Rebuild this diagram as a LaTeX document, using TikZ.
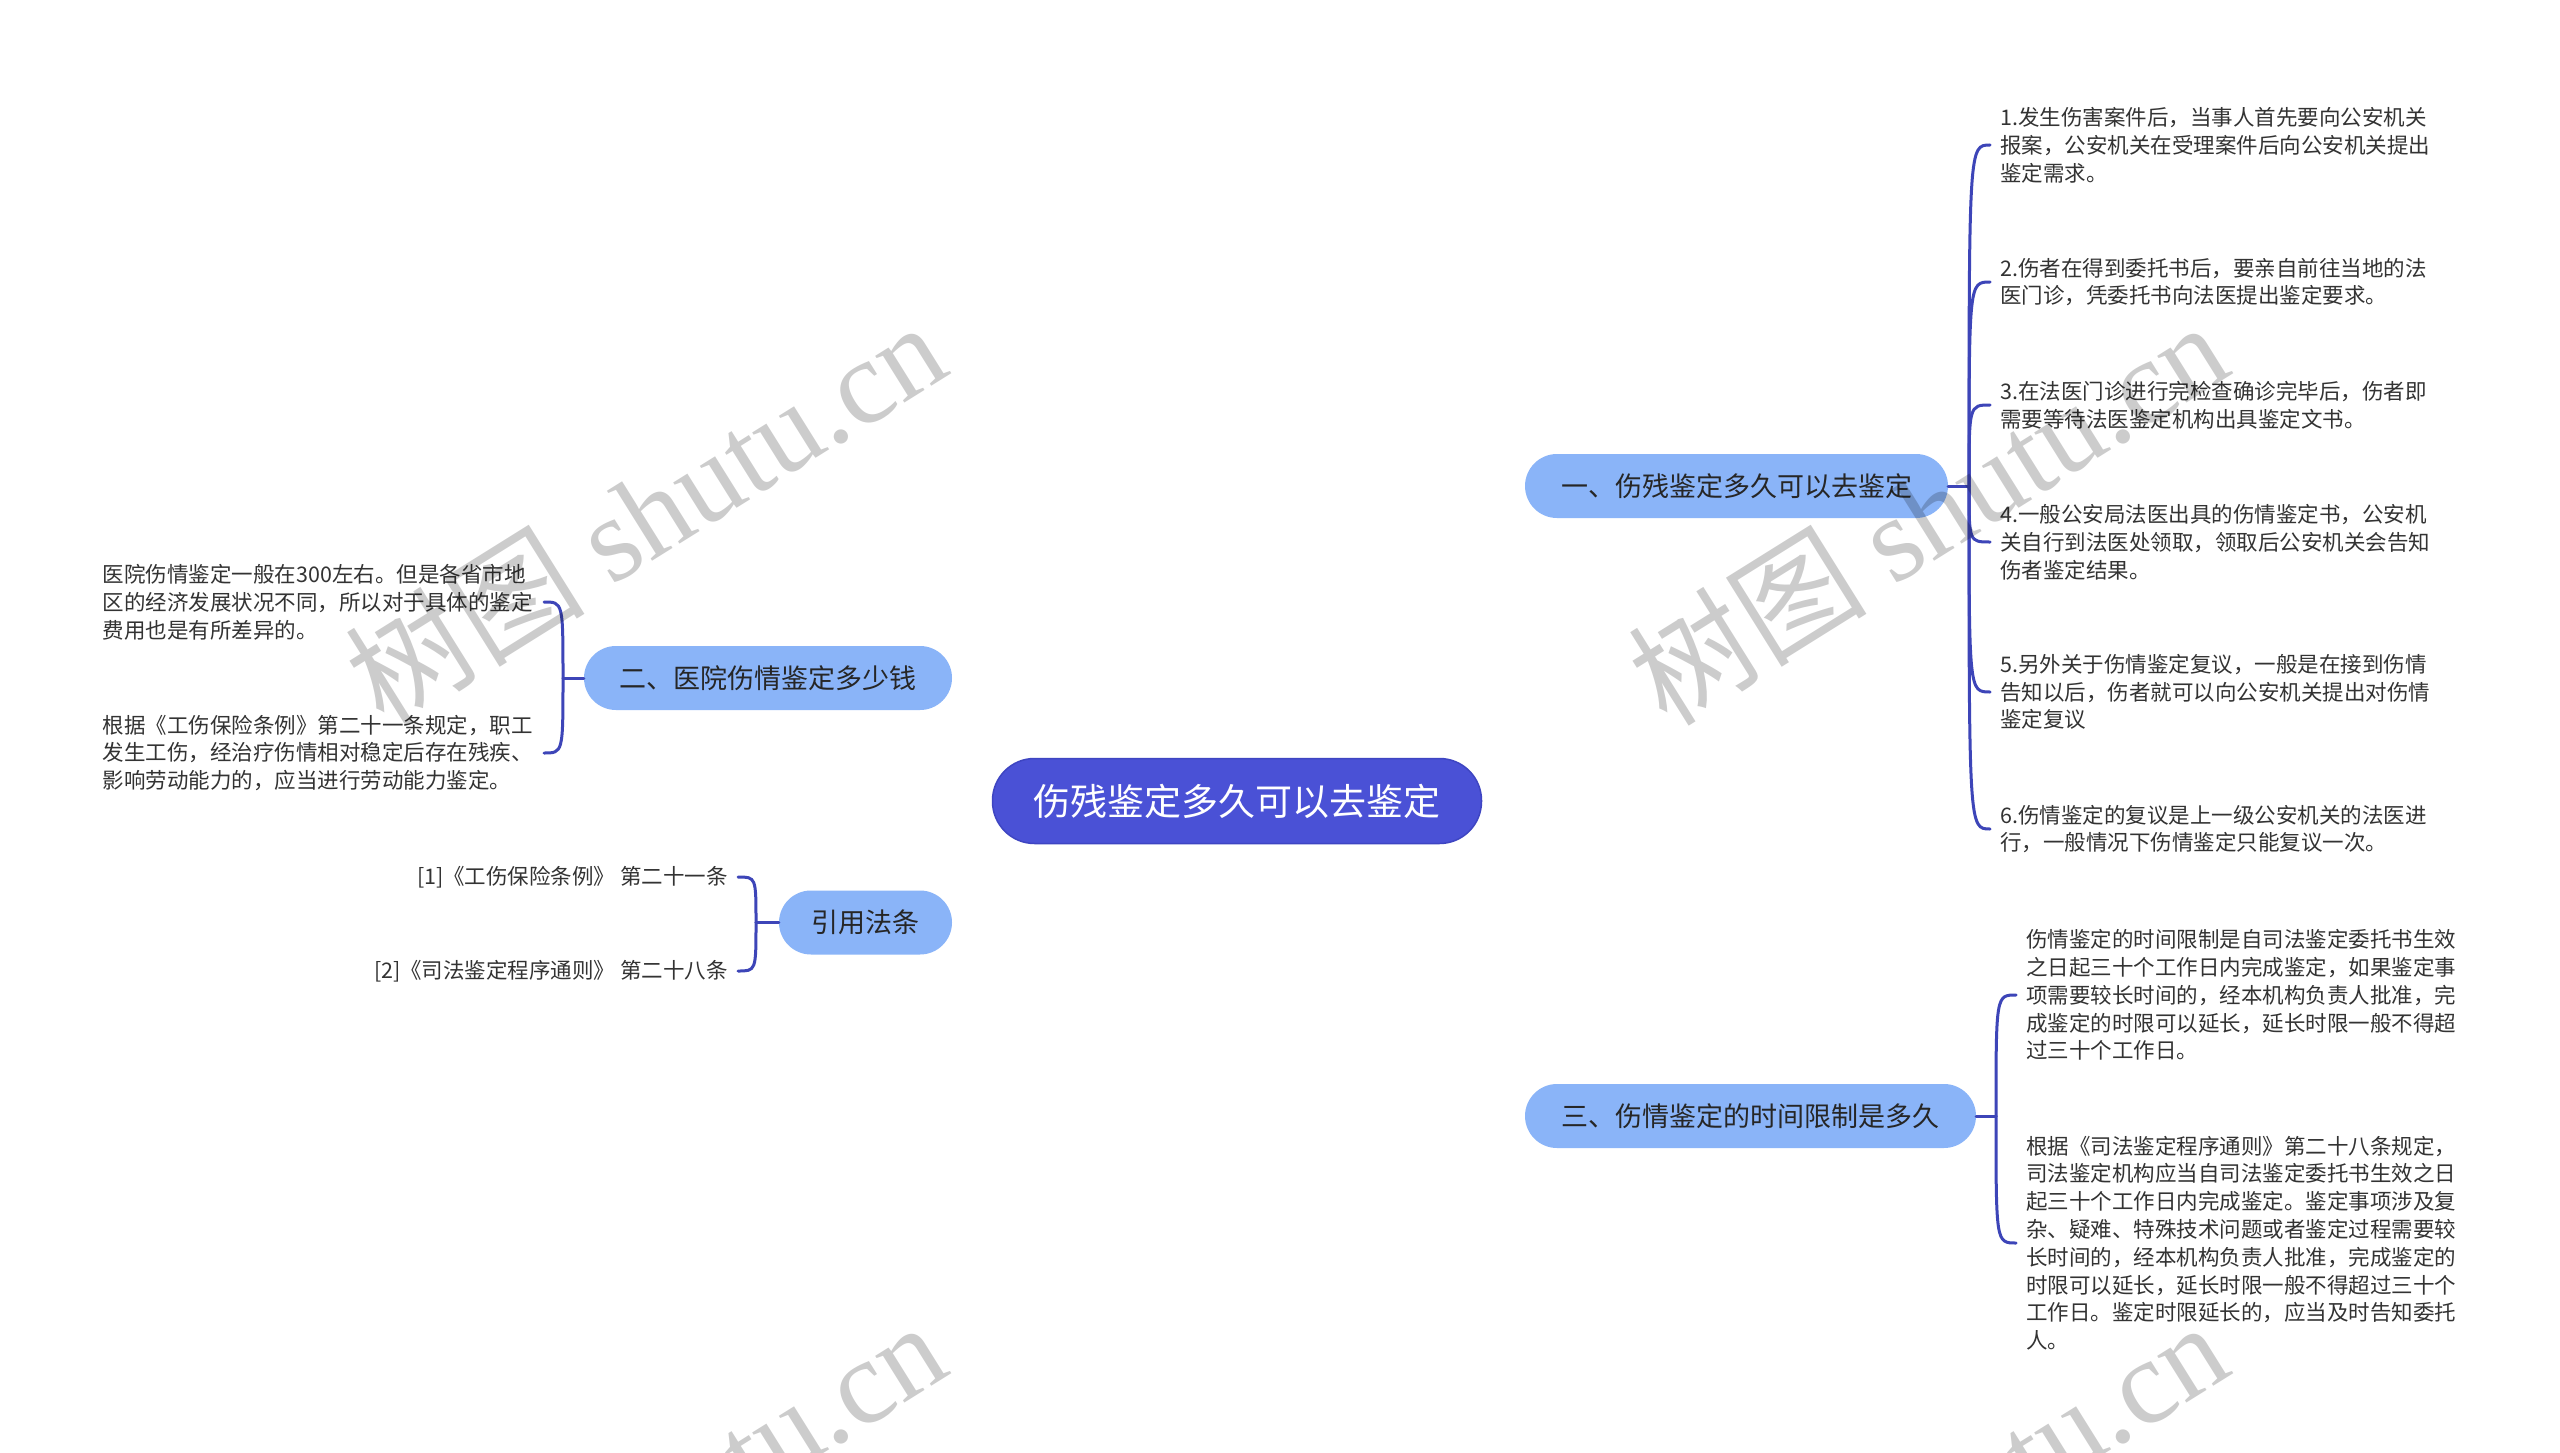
\documentclass[tikz,border=0pt]{standalone}
\usepackage{fontspec}
\setmainfont{Noto Sans CJK SC}
\newfontfamily\wmserif{Liberation Serif}
\newfontfamily\wmcjk{Noto Sans CJK SC}
\usetikzlibrary{calc}
\pgfdeclarelayer{bg}
\pgfsetlayers{bg,main}
\definecolor{rootfill}{HTML}{4A51D6}
\definecolor{rootline}{HTML}{3E45C2}
\definecolor{brfill}{HTML}{8AB4F8}
\definecolor{connc}{HTML}{3D45B8}
\definecolor{txt}{HTML}{333333}
\definecolor{brtxt}{HTML}{262626}
\tikzset{
  rootnode/.style={rectangle, rounded corners=42pt, minimum width=489pt, minimum height=85pt,
    fill=rootfill, draw=rootline, line width=1.5pt, text=white, inner sep=0pt,
    font=\fontsize{37}{44}\selectfont},
  branchnode/.style={rectangle, rounded corners=32pt, minimum height=64pt, fill=brfill,
    inner sep=0pt, text=brtxt, font=\fontsize{27}{32}\selectfont},
  leafnode/.style={inner xsep=10pt, inner ysep=0pt, text=txt, align=left,
    font=\fontsize{21.5}{27.8}\selectfont},
  connline/.style={draw=connc, line width=3pt, line cap=round},
  wmark/.style={text=black, text opacity=0.2, inner sep=0pt, rotate=32,
    font=\fontsize{120}{130}\selectfont}
}
\begin{document}
\begin{tikzpicture}[x=1pt, y=-1pt]
\useasboundingbox (0,0) rectangle (2560,1453);
\clip (0,0) rectangle (2560,1453);
\fill[white] (0,0) rectangle (2560,1453);

% central and main branches
\node[rootnode] (root) at (1237,801) {伤残鉴定多久可以去鉴定};
\node[branchnode, minimum width=423pt] (b1) at (1736.5,486) {一、伤残鉴定多久可以去鉴定};
\node[branchnode, minimum width=368pt] (b2) at (768,678) {二、医院伤情鉴定多少钱};
\node[branchnode, minimum width=173pt] (yin) at (865.5,922.5) {引用法条};
\node[branchnode, minimum width=451pt] (b4) at (1750.5,1116) {三、伤情鉴定的时间限制是多久};

% leaves of branch 1
\node[leafnode, anchor=west] (c11) at (1990,145) {1.发生伤害案件后，当事人首先要向公安机关\\报案，公安机关在受理案件后向公安机关提出\\鉴定需求。};
\node[leafnode, anchor=west] (c12) at (1990,282) {2.伤者在得到委托书后，要亲自前往当地的法\\医门诊，凭委托书向法医提出鉴定要求。};
\node[leafnode, anchor=west] (c13) at (1990,405) {3.在法医门诊进行完检查确诊完毕后，伤者即\\需要等待法医鉴定机构出具鉴定文书。};
\node[leafnode, anchor=west] (c14) at (1990,542) {4.一般公安局法医出具的伤情鉴定书，公安机\\关自行到法医处领取，领取后公安机关会告知\\伤者鉴定结果。};
\node[leafnode, anchor=west] (c15) at (1990,692) {5.另外关于伤情鉴定复议，一般是在接到伤情\\告知以后，伤者就可以向公安机关提出对伤情\\鉴定复议};
\node[leafnode, anchor=west] (c16) at (1990,829) {6.伤情鉴定的复议是上一级公安机关的法医进\\行，一般情况下伤情鉴定只能复议一次。};

% leaves of branch 2
\node[leafnode, anchor=east, text width=431pt] (c21) at (544,602) {医院伤情鉴定一般在300左右。但是各省市地\\区的经济发展状况不同，所以对于具体的鉴定\\费用也是有所差异的。};
\node[leafnode, anchor=east, text width=431pt] (c22) at (544,753) {根据《工伤保险条例》第二十一条规定，职工\\发生工伤，经治疗伤情相对稳定后存在残疾、\\影响劳动能力的，应当进行劳动能力鉴定。};

% leaves of citations
\node[leafnode, anchor=east, align=right] (c31) at (738,877) {[1]《工伤保险条例》 第二十一条};
\node[leafnode, anchor=east, align=right] (c32) at (738,971) {[2]《司法鉴定程序通则》 第二十八条};

% leaves of branch 3
\node[leafnode, anchor=west] (c41) at (2016,995) {伤情鉴定的时间限制是自司法鉴定委托书生效\\之日起三十个工作日内完成鉴定，如果鉴定事\\项需要较长时间的，经本机构负责人批准，完\\成鉴定的时限可以延长，延长时限一般不得超\\过三十个工作日。};
\node[leafnode, anchor=west] (c42) at (2016,1243) {根据《司法鉴定程序通则》第二十八条规定，\\司法鉴定机构应当自司法鉴定委托书生效之日\\起三十个工作日内完成鉴定。鉴定事项涉及复\\杂、疑难、特殊技术问题或者鉴定过程需要较\\长时间的，经本机构负责人批准，完成鉴定的\\时限可以延长，延长时限一般不得超过三十个\\工作日。鉴定时限延长的，应当及时告知委托\\人。};

% junctions
\coordinate (j1) at (1969,486);
\coordinate (j2) at (563,678);
\coordinate (j3) at (756,922.5);
\coordinate (j4) at (1996,1116);

\begin{pgfonlayer}{bg}
\draw[connline] (root.center) .. controls (1239,560) and (1340,486) .. (b1.west);
\draw[connline] (b2.east) .. controls (1150,678) and (1228,730) .. (root.center);
\draw[connline] (yin.east) .. controls (1150,922.5) and (1228,872) .. (root.center);
\draw[connline] (root.center) .. controls (1239,1040) and (1340,1116) .. (b4.west);
\end{pgfonlayer}

\draw[connline] (b1.east) -- (j1);
\foreach \c in {c11,c12,c13,c14,c15,c16}
  \draw[connline] (j1) .. controls (j1 |- \c.west) .. (\c.west);
\draw[connline] (b2.west) -- (j2);
\foreach \c in {c21,c22}
  \draw[connline] (j2) .. controls (j2 |- \c.east) .. (\c.east);
\draw[connline] (yin.west) -- (j3);
\foreach \c in {c31,c32}
  \draw[connline] (j3) .. controls (j3 |- \c.east) .. (\c.east);
\draw[connline] (b4.east) -- (j4);
\foreach \c in {c41,c42}
  \draw[connline] (j4) .. controls (j4 |- \c.west) .. (\c.west);

% watermarks
\node[wmark] (wm1) at (645,512) {{\wmcjk 树图} {\wmserif shutu.cn}};
\node[wmark] (wm2) at (1927,512) {{\wmcjk 树图} {\wmserif shutu.cn}};
\node[wmark] (wm3) at (645,1512) {{\wmcjk 树图} {\wmserif shutu.cn}};
\node[wmark] (wm4) at (1927,1512) {{\wmcjk 树图} {\wmserif shutu.cn}};
\end{tikzpicture}
\end{document}
